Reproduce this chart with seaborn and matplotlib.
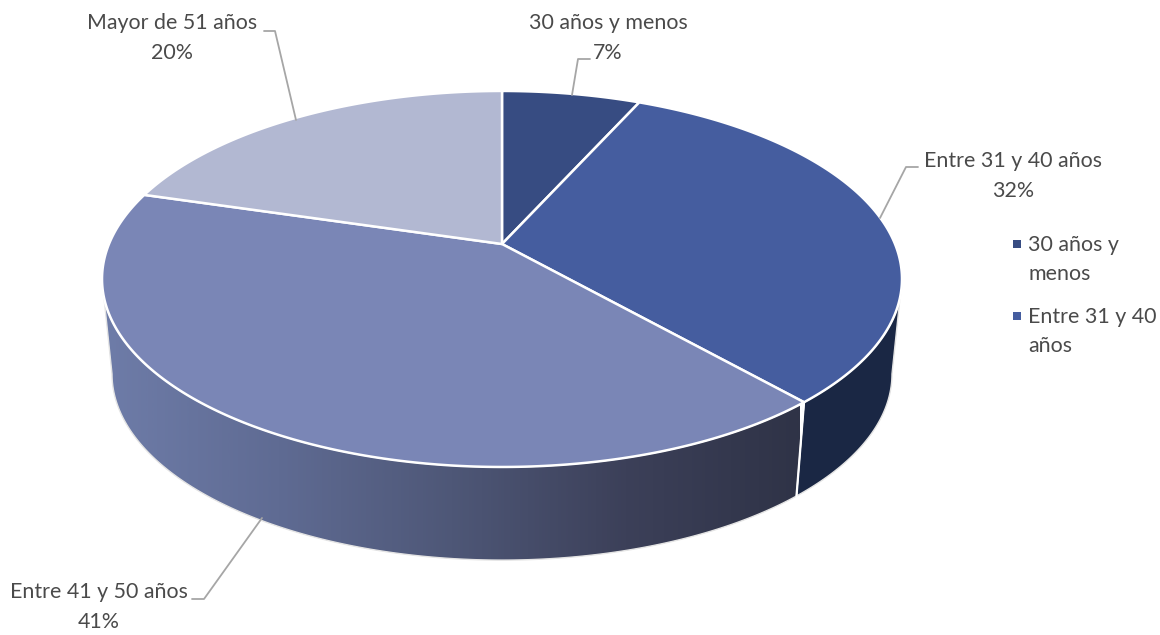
import numpy as np
import matplotlib
matplotlib.use('Agg')
import matplotlib.pyplot as plt
from matplotlib.patches import Polygon
import seaborn as sns

# datos
categorias = ['30 años y menos', 'Entre 31 y 40 años', 'Entre 41 y 50 años', 'Mayor de 51 años']
valores = [6.7, 31.8, 41.1, 20.4]
colores = ['#374c82', '#455d9f', '#7a86b6', '#b2b8d2']
leyenda = ['30 años y\nmenos', 'Entre 31 y 40\naños']
degradado = ['#6e7ca8', '#5f6b93', '#4e5777', '#3c4059', '#2f3347']
lado_oscuro = '#1a2744'
color_texto = '#4a4a4a'
color_guia = '#a6a6a6'

sns.set_theme(style='white')
plt.rcParams['font.family'] = ['Lato', 'DejaVu Sans']

fig, ax = plt.subplots(figsize=(11.6, 6.35), dpi=100)
fig.subplots_adjust(left=0, right=1, bottom=0, top=1)
ax.set_xlim(0, 1160)
ax.set_ylim(635, 0)
ax.axis('off')

# proyeccion del circulo (perspectiva simple)
CX, CY = 502, 244
C, A, D = 0.186, 181.5, 393
TAM = 15.4


def rim(theta):
    u, v = np.sin(theta), np.cos(theta)
    d = 1 + C * v
    return CX + D * u / d, CY - A * v / d


def rim_bajo(theta):
    x, y = rim(theta)
    return CX + 0.975 * (x - CX), 374 + 0.99 * (y - 279)


limites = np.cumsum([0] + valores) / sum(valores) * 2 * np.pi
izq, der = 2 * np.pi - np.arccos(-C), np.arccos(-C)


def lado(t0, t1):
    t = np.linspace(t0, t1, 200)
    xa, ya = rim(t)
    xb, yb = rim_bajo(t[::-1])
    return np.column_stack([np.r_[xa, xb], np.r_[ya, yb]])


# lados
p_oscuro = lado(der, limites[2])
ax.add_patch(Polygon(p_oscuro, closed=True, fc=lado_oscuro, ec='#e4e4e4', lw=1.0, zorder=1))

p_grad = lado(limites[2], izq)
cmap = sns.blend_palette(degradado, n_colors=256, as_cmap=True)
img = ax.imshow(np.linspace(0, 1, 800).reshape(1, -1), cmap=cmap, aspect='auto',
                extent=[105, 800, 635, 0], zorder=1)
borde = Polygon(p_grad, closed=True, fc='none', ec='none', transform=ax.transData)
ax.add_patch(borde)
img.set_clip_path(borde)
ax.add_patch(Polygon(p_grad, closed=True, fc='none', ec='#e4e4e4', lw=1.0, zorder=2))
ax.set_xlim(0, 1160)
ax.set_ylim(635, 0)

# separacion entre lados
xs = [rim(limites[2])[0], rim_bajo(limites[2])[0]]
ys = [rim(limites[2])[1], rim_bajo(limites[2])[1]]
ax.plot(xs, ys, color='white', lw=1.6, zorder=3)

# cara superior
for i, color in enumerate(colores):
    t = np.linspace(limites[i], limites[i + 1], 200)
    x, y = rim(t)
    ax.fill(np.r_[CX, x], np.r_[CY, y], fc=color, ec='white', lw=1.8, joinstyle='round', zorder=4)

# etiquetas
etiquetas = [(608, 23), (1013, 161), (99, 592), (172, 23)]
for cat, val, (x, y) in zip(categorias, valores, etiquetas):
    ax.text(x, y, cat, ha='center', va='center', fontsize=TAM, color=color_texto, zorder=5)
    ax.text(x, y + 30, f'{round(val)}%', ha='center', va='center', fontsize=TAM, color=color_texto, zorder=5)

# lineas guia
guias = [([572, 578, 590], [95, 59, 59]),
         ([880, 906, 918], [218, 167, 167]),
         ([262, 204, 192], [518, 599, 599]),
         ([296, 275, 264], [120, 31, 31])]
for gx, gy in guias:
    ax.plot(gx, gy, color=color_guia, lw=1.3, zorder=5)

# leyenda recortada
for (txt, color, y) in zip(leyenda, colores[:2], [244, 316]):
    ax.scatter([1017], [y], marker='s', s=36, color=color, linewidths=0, zorder=5)
    l1, l2 = txt.split('\n')
    ax.text(1028, y + 1, l1, ha='left', va='center', fontsize=TAM, color=color_texto)
    ax.text(1028, y + 30, l2, ha='left', va='center', fontsize=TAM, color=color_texto)

fig.savefig('out.png', dpi=100)
